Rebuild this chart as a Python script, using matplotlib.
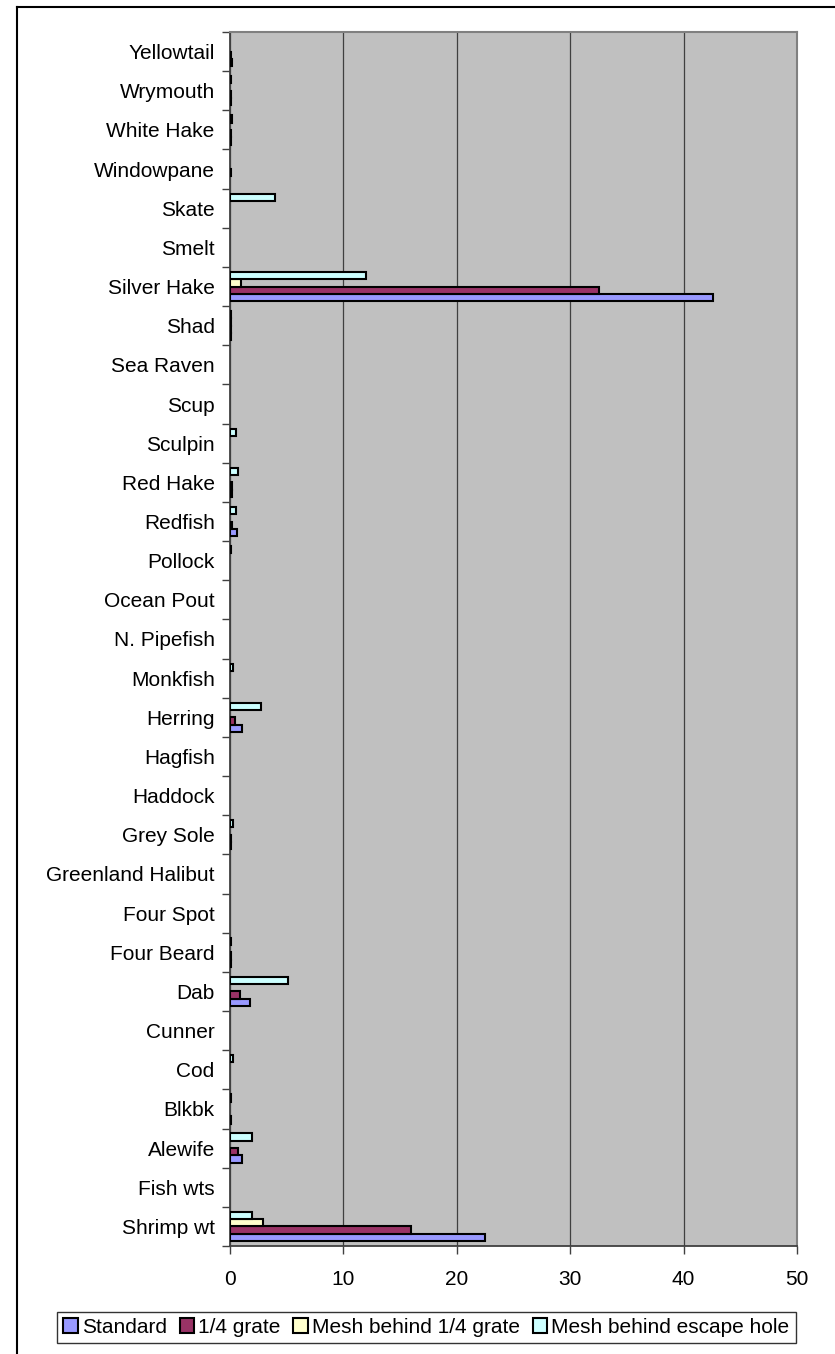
import numpy as np
import matplotlib.pyplot as plt
from matplotlib.lines import Line2D

plt.rcParams['font.family'] = ['Liberation Sans', 'DejaVu Sans']

# especies, de abajo hacia arriba
especies = ["Shrimp wt", "Fish wts", "Alewife", "Blkbk", "Cod", "Cunner", "Dab",
            "Four Beard", "Four Spot", "Greenland Halibut", "Grey Sole", "Haddock",
            "Hagfish", "Herring", "Monkfish", "N. Pipefish", "Ocean Pout", "Pollock",
            "Redfish", "Red Hake", "Sculpin", "Scup", "Sea Raven", "Shad",
            "Silver Hake", "Smelt", "Skate", "Windowpane", "White Hake", "Wrymouth",
            "Yellowtail"]

standard = [22.5, 0, 1.1, 0.05, 0, 0, 1.8, 0.1, 0, 0, 0.1, 0, 0, 1.05, 0, 0, 0, 0,
            0.6, 0.2, 0, 0, 0, 0.1, 42.6, 0, 0, 0, 0.1, 0.05, 0.2]
rejilla = [16.0, 0, 0.7, 0, 0, 0, 0.85, 0.05, 0, 0, 0.1, 0, 0, 0.4, 0, 0, 0, 0,
           0.2, 0.2, 0, 0, 0, 0.1, 32.5, 0, 0, 0.05, 0.1, 0.05, 0.1]
malla_rejilla = [2.9, 0, 0, 0, 0, 0, 0, 0, 0, 0, 0, 0, 0, 0, 0, 0, 0, 0,
                 0, 0, 0, 0, 0, 0.05, 1.0, 0, 0, 0, 0, 0, 0]
malla_escape = [1.9, 0, 1.9, 0.05, 0.3, 0, 5.1, 0.1, 0, 0, 0.3, 0, 0, 2.7, 0.3, 0, 0, 0.1,
                0.5, 0.7, 0.5, 0, 0, 0.05, 12.0, 0, 4.0, 0, 0.2, 0.05, 0]

series = [standard, rejilla, malla_rejilla, malla_escape]
nombres = ["Standard", "1/4 grate", "Mesh behind 1/4 grate", "Mesh behind escape hole"]
colores = ["#9999FF", "#993366", "#FFFFCC", "#CCFFFF"]

fig = plt.figure(figsize=(8.35, 13.54), dpi=100)
ax = fig.add_axes([230 / 835, 108 / 1354, 567 / 835, 1214 / 1354])
ax.set_facecolor("#C0C0C0")

y = np.arange(len(especies))
alto = 0.187
for k, (vals, nombre, color) in enumerate(zip(series, nombres, colores)):
    vals = np.array(vals)
    anchos = [1.5 if v > 0 else 0 for v in vals]
    ax.barh(y + (k - 1.5) * alto, vals, height=alto, color=color,
            edgecolor="black", linewidth=anchos, label=nombre, zorder=3)

ax.set_xlim(0, 50)
ax.set_ylim(-0.5, len(especies) - 0.5)
ax.set_xticks(np.arange(0, 51, 10))
ax.xaxis.grid(True, color="#404040", linewidth=0.9, zorder=1)

# marcas entre categorías, etiquetas en el centro
ax.set_yticks(np.arange(-0.5, len(especies), 1))
ax.set_yticklabels([])
ax.set_yticks(y, minor=True)
ax.set_yticklabels(especies, minor=True, fontsize=15)
ax.tick_params(axis="y", which="major", length=6, width=1, color="#404040", direction="out")
ax.tick_params(axis="y", which="minor", length=0, pad=11)
ax.tick_params(axis="x", length=6, width=1, color="#404040", direction="out", pad=11, labelsize=15)

for lado in ["top", "right"]:
    ax.spines[lado].set_color("#808080")
    ax.spines[lado].set_linewidth(1.5)
for lado in ["left", "bottom"]:
    ax.spines[lado].set_color("#404040")
    ax.spines[lado].set_linewidth(1.3)

leg = fig.legend(loc="center", bbox_to_anchor=(426.5 / 835, 26.5 / 1354), ncol=4,
                 fontsize=15, frameon=True, fancybox=False, edgecolor="black",
                 handlelength=0.7, handleheight=0.7, handletextpad=0.2,
                 columnspacing=0.6, borderpad=0.3, borderaxespad=0)
leg.get_frame().set_linewidth(1.0)

# borde exterior del gráfico
fig.add_artist(Line2D([17 / 835, 17 / 835], [0, 1 - 7 / 1354], color="black", linewidth=1.5))
fig.add_artist(Line2D([17 / 835, 1], [1 - 7 / 1354, 1 - 7 / 1354], color="black", linewidth=1.5))

fig.savefig("out.png", dpi=100)
